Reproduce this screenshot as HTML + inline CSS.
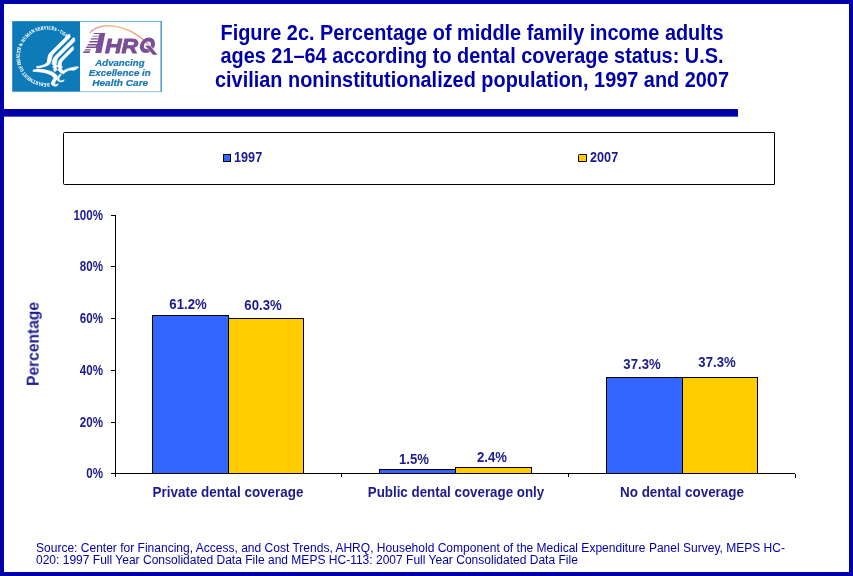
<!DOCTYPE html>
<html><head><meta charset="utf-8">
<style>
html,body{margin:0;padding:0;}
body{width:853px;height:576px;position:relative;overflow:hidden;background:#fff;font-family:"Liberation Sans",sans-serif;}
.abs{position:absolute;}
#frame{left:0;top:0;width:845px;height:568px;border:4px solid #0000a8;}
.t{position:absolute;white-space:nowrap;color:#0000a8;font-weight:bold;font-size:21.6px;line-height:24px;text-align:center;left:172px;width:600px;transform:scaleX(0.9212);}
#rule{left:0;top:109px;width:737.6px;height:8px;background:linear-gradient(#0000a8 0,#0000a8 7px,rgba(0,0,168,.65) 7px);border-radius:0 1px 0 0;}
#legend{left:63px;top:132px;width:710px;height:51px;border:1px solid #000;border-radius:1.5px 0 0 1.5px;}
.c{position:absolute;white-space:nowrap;color:#1c1c8c;font-weight:bold;font-size:14px;line-height:14px;}
.yl{width:40px;text-align:right;left:63px;font-size:14px;transform-origin:100% 50%;transform:scaleX(0.826);}
.dl{width:80px;text-align:center;transform:scaleX(0.938);}
.xl{width:220px;text-align:center;transform:scaleX(0.96);}
.bar{position:absolute;border:1px solid #000;box-sizing:border-box;}
.b{background:#3366ff;}
.y{background:#ffcc00;}
.ln{position:absolute;background:#000;}
.src{left:35.7px;font-size:12px;line-height:12px;transform-origin:0 0;transform:scaleX(1.002);color:#0000a8;white-space:nowrap;}
</style></head><body>
<div id="wrap" style="position:absolute;left:0;top:0;width:853px;height:576px;will-change:transform;">
<div id="frame" class="abs"></div>

<!-- logo -->
<svg class="abs" style="left:0;top:0" width="180" height="100" viewBox="0 0 180 100">
<defs>
<linearGradient id="arcg" x1="0" y1="0" x2="1" y2="0">
<stop offset="0" stop-color="#e3a3b4"/><stop offset="0.2" stop-color="#e8a696"/><stop offset="0.45" stop-color="#f3c887"/><stop offset="0.75" stop-color="#efb083"/><stop offset="1" stop-color="#e08a8a"/>
</linearGradient>
<path id="ring" d="M 49.51,83.05 A 26.90,26.90 0 1 1 65.72,37.28"/>
</defs>
<rect x="80" y="21" width="82" height="1" fill="#74b3da"/><rect x="160.4" y="21" width="1.6" height="71.1" fill="#5a9fd0"/><rect x="80" y="91.3" width="82" height="0.8" fill="#74b3da"/>
<rect x="12.2" y="21.15" width="67.8" height="70.55" fill="#0e7bb9"/>
<text font-family="Liberation Serif" font-weight="bold" font-size="5" fill="#fff" stroke="#fff" stroke-width="0.1"><textPath href="#ring" textLength="108.5" lengthAdjust="spacingAndGlyphs">DEPARTMENT OF HEALTH &amp; HUMAN SERVICES • USA</textPath></text>
<g transform="translate(30,30) scale(0.104167)" fill="#fff" stroke="#fff" stroke-width="8" stroke-linejoin="round">
<path d="M375,38 C383,40 388,60 383,72 L228,225 C205,250 205,290 197,310 C190,345 120,355 72,366 L62,352 C110,345 160,335 167,300 C172,260 175,235 200,212 Z"/>
<path d="M420,72 C430,78 432,95 428,108 L272,262 C255,280 255,310 250,335 L262,350 L245,362 L262,378 L248,392 L240,400 L225,385 L232,370 L218,355 L228,338 L213,330 C215,300 220,275 240,252 Z"/>
<path d="M412,158 C418,165 418,180 414,192 L310,298 C298,312 300,330 300,345 L312,358 L296,368 L310,382 L320,395 C330,385 380,360 460,352 L466,360 C440,375 430,390 400,385 C370,378 345,400 320,420 L290,408 L282,395 L268,385 L278,370 L266,355 C268,320 272,300 292,278 Z"/>
<path d="M28,388 C60,372 130,375 200,398 C240,412 262,435 262,450 C258,480 232,500 238,515 C245,530 265,522 270,515 L262,535 C240,545 210,535 205,515 C203,490 235,470 228,455 C215,430 150,405 95,402 C70,400 50,398 30,397 Z"/>
<path d="M300,430 C285,450 270,465 282,482 C295,495 315,488 328,478 L320,492 C300,502 270,498 262,478 C258,460 275,440 285,425 Z"/>
</g>
<!-- AHRQ -->
<path d="M90.2,32.6 C98,22.9 125,20.9 148.2,44.3" fill="none" stroke="url(#arcg)" stroke-width="1.5" stroke-linecap="round"/>
<g fill="#7b4f96">
<g transform="translate(78,18) scale(0.1032)">
<polygon points="209,146 264,146 226,339.2 167,339.2"/>
<polygon points="156.7,146.0 212.0,146.0 210.0,155.0 151.6,155.0"/>
<polygon points="142.1,171.8 206.3,171.8 204.5,180.3 137.3,180.3"/>
<polygon points="127.6,197.3 200.8,197.3 198.3,208.7 121.2,208.7"/>
<polygon points="113.1,222.9 195.2,222.9 192.0,237.1 105.0,237.1"/>
<polygon points="97.0,251.3 188.9,251.3 185.8,265.5 88.9,265.5"/>
<polygon points="82.5,276.8 183.4,276.8 180.2,291.0 74.5,291.0"/>
<polygon points="68.0,302.4 124,302.4 121,313.8 61.6,313.8"/>
<polygon points="56.7,322.3 117,322.3 112.6,339.2 47.2,339.2"/>
<polygon points="178,251.3 200,251.3 200,291 170,291"/>
</g>
<text x="104.9" y="52.6" font-family="Liberation Sans" font-weight="bold" font-style="italic" font-size="20" stroke="#7b4f96" stroke-width="0.9" textLength="33.2" lengthAdjust="spacingAndGlyphs">HR</text>
<g transform="translate(147.4,45.25) skewX(-12)">
<path fill-rule="evenodd" d="M-7.5,0 A7.5,7.85 0 1 1 7.5,0 A7.5,7.85 0 1 1 -7.5,0 Z M-3.4,0 A3.4,3.8 0 1 0 3.4,0 A3.4,3.8 0 1 0 -3.4,0 Z"/>
</g>
<polygon points="144.6,45.2 150,45.2 157.6,54.7 152.8,54.7" stroke="#fff" stroke-width="0.7"/>
<polygon points="145.6,46 149.6,46 157.3,54.7 153.3,54.7"/>
</g>
<g fill="#1878b8" stroke="#1878b8" stroke-width="0.2" font-family="Liberation Sans" font-weight="bold" font-style="italic" font-size="8.7">
<text x="95.3" y="66" textLength="49.3" lengthAdjust="spacingAndGlyphs">Advancing</text>
<text x="88.8" y="75.8" textLength="62" lengthAdjust="spacingAndGlyphs">Excellence in</text>
<text x="92.2" y="86.1" textLength="56" lengthAdjust="spacingAndGlyphs">Health Care</text>
</g>
</svg>

<div class="t" style="top:20.6px">Figure 2c. Percentage of middle family income adults</div>
<div class="t" style="top:44.3px">ages 21–64 according to dental coverage status: U.S.</div>
<div class="t" style="top:68.4px">civilian noninstitutionalized population, 1997 and 2007</div>
<div id="rule" class="abs"></div>

<div id="legend" class="abs"></div>
<div class="bar b" style="left:223px;top:154px;width:8px;height:8px;"></div>
<div class="c" style="left:234px;top:150px;transform-origin:0 50%;transform:scaleX(0.905);">1997</div>
<div class="bar y" style="left:578px;top:154px;width:9px;height:8px;border-radius:1.5px 0 0 0;"></div>
<div class="c" style="left:590px;top:150px;transform-origin:0 50%;transform:scaleX(0.905);">2007</div>

<!-- axes -->
<div class="ln" style="left:115px;top:215px;width:1px;height:259px;"></div>
<div class="ln" style="left:111px;top:473px;width:684px;height:1px;"></div>
<div class="ln" style="left:111px;top:215px;width:4px;height:1px;"></div>
<div class="ln" style="left:111px;top:266px;width:4px;height:1px;"></div>
<div class="ln" style="left:111px;top:318px;width:4px;height:1px;"></div>
<div class="ln" style="left:111px;top:370px;width:4px;height:1px;"></div>
<div class="ln" style="left:111px;top:422px;width:4px;height:1px;"></div>
<div class="ln" style="left:341px;top:473px;width:1px;height:4px;"></div>
<div class="ln" style="left:568px;top:473px;width:1px;height:4px;"></div>
<div class="ln" style="left:795px;top:474px;width:1px;height:4px;"></div>
<div class="ln" style="left:115px;top:473px;width:1px;height:4px;"></div>

<div class="c yl" style="top:208px">100%</div>
<div class="c yl" style="top:259px">80%</div>
<div class="c yl" style="top:311px">60%</div>
<div class="c yl" style="top:363px">40%</div>
<div class="c yl" style="top:415px">20%</div>
<div class="c yl" style="top:466px">0%</div>

<div class="c" style="left:0px;top:0px;transform-origin:0 0;transform:translate(25.7px,386px) rotate(-90deg) scaleX(0.975);font-size:16px;line-height:16px;">Percentage</div>

<!-- bars -->
<div class="bar b" style="left:152px;top:315px;width:77px;height:159px;"></div>
<div class="bar y" style="left:228px;top:318px;width:76px;height:156px;"></div>
<div class="bar b" style="left:379px;top:469px;width:77px;height:5px;"></div>
<div class="bar y" style="left:455px;top:467px;width:77px;height:7px;"></div>
<div class="bar b" style="left:606px;top:377px;width:77px;height:97px;"></div>
<div class="bar y" style="left:682px;top:377px;width:76px;height:97px;"></div>

<div class="c dl" style="left:148px;top:297px">61.2%</div>
<div class="c dl" style="left:222.7px;top:298px">60.3%</div>
<div class="c dl" style="left:374px;top:452px">1.5%</div>
<div class="c dl" style="left:451.6px;top:450px">2.4%</div>
<div class="c dl" style="left:602px;top:357px">37.3%</div>
<div class="c dl" style="left:677px;top:355px">37.3%</div>

<div class="c xl" style="left:118px;top:485px">Private dental coverage</div>
<div class="c xl" style="left:345.6px;top:485px;transform:scaleX(0.953)">Public dental coverage only</div>
<div class="c xl" style="left:571.9px;top:485px">No dental coverage</div>

<div class="src abs" style="top:542px">Source: Center for Financing, Access, and Cost Trends, AHRQ, Household Component of the Medical Expenditure Panel Survey, MEPS HC-</div>
<div class="src abs" style="top:554px">020: 1997 Full Year Consolidated Data File and MEPS HC-113: 2007 Full Year Consolidated Data File</div>
</div>
</body></html>
